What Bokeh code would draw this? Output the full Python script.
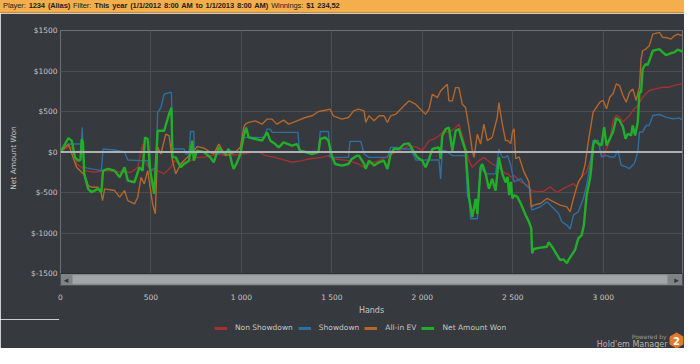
from bokeh.plotting import figure
from bokeh.models import Range1d, Span, Legend, LegendItem, FixedTicker, Div
from bokeh.layouts import column
from bokeh.embed import file_html
from bokeh.resources import INLINE
from bokeh.core.properties import value

# ---------------- data ----------------
net_hands = [0, 44, 62, 80, 98, 110, 117, 124, 131, 153, 171, 208, 226, 235, 263, 299, 327, 354, 372, 409,
             436, 454, 467, 482, 496, 518, 537, 573, 600, 613, 619, 637, 664, 683, 710, 728, 737, 755, 792,
             828, 847, 875, 893, 912, 930, 948, 957, 976, 994, 1013, 1026, 1040, 1077, 1114, 1142, 1160,
             1187, 1206, 1233, 1279, 1307, 1325, 1353, 1390, 1426, 1436, 1463, 1481, 1500, 1518, 1555,
             1592, 1610, 1638, 1650, 1678, 1687, 1705, 1733, 1761, 1788, 1807, 1825, 1843, 1871, 1899,
             1926, 1954, 1972, 2000, 2018, 2037, 2055, 2092, 2101, 2110, 2129, 2147, 2166, 2184, 2202,
             2221, 2239, 2258, 2276, 2295, 2304, 2322, 2331, 2350, 2368, 2386, 2405, 2423, 2442, 2460,
             2471, 2480, 2489, 2498, 2507, 2525, 2544, 2571, 2589, 2602, 2607, 2616, 2653, 2689, 2698,
             2717, 2744, 2762, 2780, 2799, 2808, 2826, 2844, 2862, 2881, 2893, 2908, 2927, 2935, 2944,
             2953, 2972, 2990, 3005, 3018, 3036, 3054, 3072, 3090, 3109, 3123, 3136, 3154, 3163, 3176,
             3191, 3200, 3209, 3218, 3233, 3245, 3258, 3274, 3310, 3329, 3347, 3375, 3393, 3411, 3438]
net_vals = [0, 172, 140, -65, -107, -100, 160, 120, -270, -455, -496, -455, -496, -230, -209, -230, -312,
            -189, -353, -373, -189, -230, 180, 160, -230, -517, 262, 262, 467, 549, -66, -66, -189, -148,
            -107, 140, -107, 16, 0, -66, -127, 57, 0, -25, 37, -148, -209, -127, -25, 201, 303, 180, 160,
            140, 242, 140, 98, 57, 119, 78, 98, 16, 0, -25, 0, 160, 180, 140, -45, -148, -168, -148, -86,
            -45, -45, -148, -209, -107, -168, -127, -107, -209, -25, 37, 37, 98, 107, -4, -66, -107, -189,
            -86, 37, 57, -86, 201, 283, 303, 16, 262, 283, 140, 16, -558, -804, -578, -763, -189, -148,
            -270, -455, -332, -476, -66, -270, -373, -308, -533, -369, -574, -533, -554, -636, -779, -861,
            -943, -1250, -1197, -1181, -1169, -1115, -1169, -1271, -1333, -1325, -1374, -1333, -1271,
            -1210, -1066, -1025, -902, -533, -328, -164, 82, 144, 103, 82, 308, 82, 164, 246, 418, 389,
            308, 164, 226, 205, 328, 205, 369, 738, 738, 1025, 1086, 1074, 1148, 1250, 1271, 1230, 1197,
            1222, 1230, 1263, 1238]

sd_hands = [0, 44, 115, 120, 124, 131, 171, 226, 235, 299, 354, 372, 445, 482, 496, 528, 537, 555, 573,
            600, 613, 619, 683, 692, 710, 719, 737, 740, 755, 865, 930, 994, 1013, 1040, 1128, 1142, 1160,
            1170, 1313, 1320, 1426, 1436, 1481, 1490, 1592, 1600, 1660, 1678, 1705, 1807, 1825, 1865,
            1880, 1936, 1964, 2092, 2101, 2110, 2129, 2166, 2239, 2250, 2258, 2267, 2304, 2322, 2350,
            2405, 2423, 2442, 2460, 2471, 2489, 2507, 2544, 2571, 2597, 2604, 2653, 2689, 2726, 2753,
            2771, 2799, 2817, 2835, 2862, 2890, 2908, 2927, 2944, 2972, 2990, 3018, 3036, 3063, 3081,
            3099, 3127, 3145, 3172, 3191, 3200, 3218, 3236, 3254, 3274, 3310, 3347, 3384, 3420, 3438]
sd_vals = [0, 98, 98, 303, 98, -189, -209, -230, 37, 25, 0, -98, -107, -107, -230, -189, 488, 549, 713,
           734, 734, 37, 37, -25, -25, 254, 254, -66, 16, -25, 16, 0, 180, 180, 180, 283, 283, 242, 242, 8,
           8, 254, 254, -66, -66, 131, 131, -25, -66, -66, 57, 57, 37, 37, -98, -98, -332, 16, 16, -45,
           -45, -558, -558, -824, -824, -189, -270, -270, 37, -66, -66, -41, -164, -369, -328, -410,
           -451, -717, -676, -615, -697, -758, -861, -902, -951, -779, -738, -574, -410, -164, 144, 144,
           -61, -41, -61, -61, 21, -164, -184, -205, -143, 0, 246, 246, 328, 328, 451, 463, 431, 410,
           418, 397]

nsd_hands = [0, 44, 71, 89, 117, 135, 190, 245, 354, 391, 427, 454, 463, 500, 537, 573, 610, 628, 664,
             719, 755, 792, 865, 912, 1004, 1059, 1096, 1132, 1187, 1279, 1335, 1371, 1445, 1481, 1518,
             1592, 1647, 1678, 1705, 1761, 1816, 1871, 1926, 1972, 2000, 2037, 2064, 2092, 2119, 2147,
             2184, 2202, 2221, 2239, 2258, 2276, 2313, 2340, 2386, 2423, 2460, 2471, 2489, 2507, 2544,
             2580, 2598, 2635, 2671, 2708, 2744, 2780, 2799, 2835, 2853, 2872, 2908, 2944, 2981, 3000,
             3018, 3036, 3054, 3072, 3090, 3109, 3145, 3163, 3191, 3218, 3254, 3291, 3329, 3365, 3402,
             3438]
nsd_vals = [0, 66, 37, -148, -189, -230, -250, -230, -250, -250, -189, 98, -107, -230, -230, -270, -189,
            -107, -148, -107, -66, -66, -25, -45, -25, 0, 0, -45, -66, -127, -107, -86, -66, -45, -86,
            -107, -148, -189, -148, -107, -45, 16, 78, 57, 16, 140, 160, 201, 262, 242, 303, 344, 201, 57,
            -107, -189, -107, -66, -148, -189, -270, -266, -308, -287, -369, -410, -472, -492, -484, -431,
            -500, -451, -431, -390, -431, -328, -246, 0, 0, -61, 41, 144, 390, 451, 431, 369, 451, 513,
            574, 677, 759, 779, 800, 800, 828, 841]

ev_hands = [0, 44, 89, 135, 153, 171, 208, 226, 232, 244, 299, 327, 354, 372, 409, 427, 445, 463, 482,
            509, 524, 537, 555, 582, 600, 619, 637, 664, 701, 737, 755, 792, 847, 875, 912, 967, 994, 1013,
            1022, 1040, 1077, 1114, 1142, 1169, 1196, 1233, 1261, 1307, 1353, 1390, 1426, 1463, 1490,
            1508, 1555, 1592, 1620, 1647, 1678, 1687, 1705, 1733, 1761, 1788, 1807, 1825, 1853, 1889,
            1926, 1963, 1990, 2018, 2037, 2055, 2083, 2101, 2119, 2138, 2147, 2166, 2184, 2202, 2221,
            2239, 2258, 2276, 2286, 2304, 2322, 2340, 2359, 2386, 2414, 2423, 2442, 2460, 2471, 2489,
            2498, 2507, 2516, 2535, 2562, 2589, 2602, 2616, 2653, 2689, 2726, 2762, 2799, 2817, 2835,
            2862, 2881, 2899, 2917, 2944, 2963, 2981, 3000, 3018, 3036, 3054, 3072, 3090, 3109, 3127,
            3145, 3163, 3182, 3200, 3209, 3218, 3236, 3254, 3274, 3310, 3329, 3347, 3375, 3393, 3411, 3438]
ev_vals = [0, 98, -189, -291, -414, -435, -435, -517, -600, -455, -476, -558, -476, -600, -640, -558,
           -312, -394, -230, -640, -763, 57, -25, 221, 201, -107, -270, -148, -66, 16, 66, 49, -25, 98,
           -45, 0, 57, 303, 344, 365, 385, 344, 406, 406, 344, 394, 344, 385, 426, 447, 500, 516, 529, 447,
           406, 426, 508, 529, 508, 365, 447, 385, 447, 447, 365, 447, 467, 549, 631, 590, 529, 467, 529,
           713, 672, 754, 795, 836, 631, 631, 795, 795, 590, 549, 303, 16, -66, 221, 98, 344, 140, 180,
           426, 610, 344, 140, 144, 103, 246, 287, -82, -61, -246, -369, -677, -656, -636, -574, -615,
           -656, -677, -738, -574, -369, -308, -164, 123, 492, 554, 615, 636, 533, 677, 718, 841, 820,
           697, 615, 738, 779, 636, 800, 1148, 1250, 1271, 1312, 1455, 1476, 1414, 1414, 1394, 1435,
           1455, 1435]

series_names = ["Non Showdown", "Showdown", "All-in EV", "Net Amount Won"]
series_colors = ["#A5302F", "#2C6FA3", "#B5672B", "#23AE2A"]
series_hands = [nsd_hands, sd_hands, ev_hands, net_hands]
series_vals = [nsd_vals, sd_vals, ev_vals, net_vals]
series_widths = [1.4, 1.4, 1.4, 2.4]
y_ticks = [-1500, -1000, -500, 0, 500, 1000, 1500]
y_tick_labels = ["$-1500", "$-1000", "$-500", "$0", "$500", "$1000", "$1500"]
x_ticks = [0, 500, 1000, 1500, 2000, 2500, 3000]
x_tick_labels = ["0", "500", "1 000", "1 500", "2 000", "2 500", "3 000"]
hand_max = 3438
y_top = 1500
y_low = -1500

# ---------------- styling ----------------
BG = "#36393D"
TXT = "#C6C6C6"
FONT = "DejaVu Sans"
W = 684
HDR_H = 13
ML, MR, MT, MB = 60, 2, 17, 34
FRAME_W = W - ML - MR
FRAME_H = 255
FOOT_H = 348 - HDR_H - MT - FRAME_H - MB
SCROLL_PX = 12
data_per_px = (y_top - y_low) / (FRAME_H - SCROLL_PX)
y_bottom = y_low - SCROLL_PX * data_per_px
hands_per_px = hand_max / FRAME_W

# ---------------- header bar ----------------
header = Div(
    text=("Player: <b>1234 (Alias)</b> Filter: "
          "<b>This year (1/1/2012 8:00 AM to 1/1/2013 8:00 AM)</b> "
          "Winnings: <b>$1 234,52</b>"),
    width=W, height=HDR_H, margin=0,
    styles={"background-color": "#F4AE4B", "border-bottom": "1px solid #C98A33",
            "font-family": "Liberation Sans", "font-size": "7.5px", "line-height": "12px",
            "letter-spacing": "-0.1px", "word-spacing": "1px",
            "color": "#1E1E1E", "padding-left": "3px", "box-sizing": "border-box",
            "white-space": "nowrap", "overflow": "hidden"})

# ---------------- main plot ----------------
p = figure(frame_width=FRAME_W, frame_height=FRAME_H, output_backend="svg", toolbar_location=None,
           x_range=Range1d(0, hand_max), y_range=Range1d(y_bottom, y_top),
           min_border_left=ML, min_border_right=MR, min_border_top=MT, min_border_bottom=MB,
           background_fill_color=BG, border_fill_color=BG, margin=0,
           outline_line_color="#6C7074", outline_line_width=1)

p.xaxis.ticker = FixedTicker(ticks=x_ticks)
p.yaxis.ticker = FixedTicker(ticks=y_ticks)
p.xaxis.major_label_overrides = {t: l for t, l in zip(x_ticks, x_tick_labels)}
p.yaxis.major_label_overrides = {t: l for t, l in zip(y_ticks, y_tick_labels)}
for ax in (p.xaxis[0], p.yaxis[0]):
    ax.axis_line_color = None
    ax.major_tick_line_color = None
    ax.minor_tick_line_color = None
    ax.major_tick_out = 0
    ax.major_tick_in = 0
    ax.major_label_text_color = TXT
    ax.major_label_text_font = FONT
    ax.major_label_text_font_size = "7.5px"
    ax.axis_label_text_color = TXT
    ax.axis_label_text_font = FONT
    ax.axis_label_text_font_style = "normal"
p.xaxis.axis_label = "Hands"
p.xaxis.axis_label_text_font_size = "8px"
p.xaxis.major_label_standoff = 7
p.xaxis.axis_label_standoff = 1
p.yaxis.axis_label = "Net Amount Won"
p.yaxis.axis_label_text_font_size = "7.5px"
p.yaxis.major_label_standoff = 3
p.yaxis.axis_label_standoff = 10

p.xgrid.grid_line_color = "#4A4E53"
p.ygrid.grid_line_color = "#4A4E53"

for hx, vy, col, lw in zip(series_hands, series_vals, series_colors, series_widths):
    p.line(hx, vy, line_color=col, line_width=lw)

p.add_layout(Span(location=0, dimension="width", line_color="#AEB0B2", line_width=2))

# scrollbar under the plot area
p.quad(left=[0], right=[hand_max], bottom=[y_bottom], top=[y_low],
       fill_color="#808386", line_color="#2A2D30", line_width=1)
p.quad(left=[12 * hands_per_px], right=[hand_max - 15 * hands_per_px],
       bottom=[y_bottom + 1.5 * data_per_px], top=[y_low - 1.5 * data_per_px],
       fill_color="#A3A6A9", line_color="#8E9194", line_width=1)
p.text(x=[5.5 * hands_per_px, hand_max - 6 * hands_per_px],
       y=[(y_bottom + y_low) / 2] * 2, text=["◂", "▸"],
       text_align="center", text_baseline="middle", text_font_size="9px",
       text_color="#33363A", text_font=value(FONT))

# ---------------- footer: legend + logo (footer data units = page pixels) ----------------
foot = figure(frame_width=W - ML, frame_height=FOOT_H, output_backend="svg", toolbar_location=None,
              x_range=Range1d(ML, W), y_range=Range1d(FOOT_H, 0),
              x_axis_type=None, y_axis_type=None, margin=0,
              min_border_left=ML, min_border_right=0, min_border_top=0, min_border_bottom=0,
              background_fill_color=BG, border_fill_color=BG,
              outline_line_color=BG, outline_line_width=3)
foot.xgrid.visible = False
foot.ygrid.visible = False
items = []
for name, col, hx, vy in zip(series_names, series_colors, series_hands, series_vals):
    r = foot.line(hx, vy, line_color=col, line_width=3, visible=False)
    items.append(LegendItem(label=name, renderers=[r]))
legend = Legend(items=items, orientation="horizontal", location=(214 - ML, FOOT_H - 13),
                background_fill_alpha=0, border_line_color=None, inactive_fill_alpha=0,
                glyph_width=13, glyph_height=8, label_height=9, label_standoff=8, spacing=5,
                padding=0, margin=0, label_text_font=FONT, label_text_font_size="7.5px",
                label_text_color=TXT)
foot.add_layout(legend)

foot.text(x=[666], y=[17], text=["Powered by"], text_font=value(FONT), text_font_size="6px",
          text_color="#9A9A9A", text_align="right", text_baseline="middle")
foot.text(x=[667], y=[25], text=["Hold'em Manager"], text_font=value(FONT), text_font_size="8px",
          text_color="#B5B5B5", text_align="right", text_baseline="middle")
foot.scatter(x=[676], y=[21], marker="hex", size=15, angle=0.5236,
             fill_color="#E07A2C", line_color="#E07A2C")
foot.text(x=[676], y=[21.5], text=["2"], text_font=value(FONT), text_font_size="10px",
          text_font_style="bold", text_color="#FFFFFF", text_align="center", text_baseline="middle")

layout = column(header, p, foot, spacing=0)
open("out.html", "w").write(file_html(layout, INLINE))
